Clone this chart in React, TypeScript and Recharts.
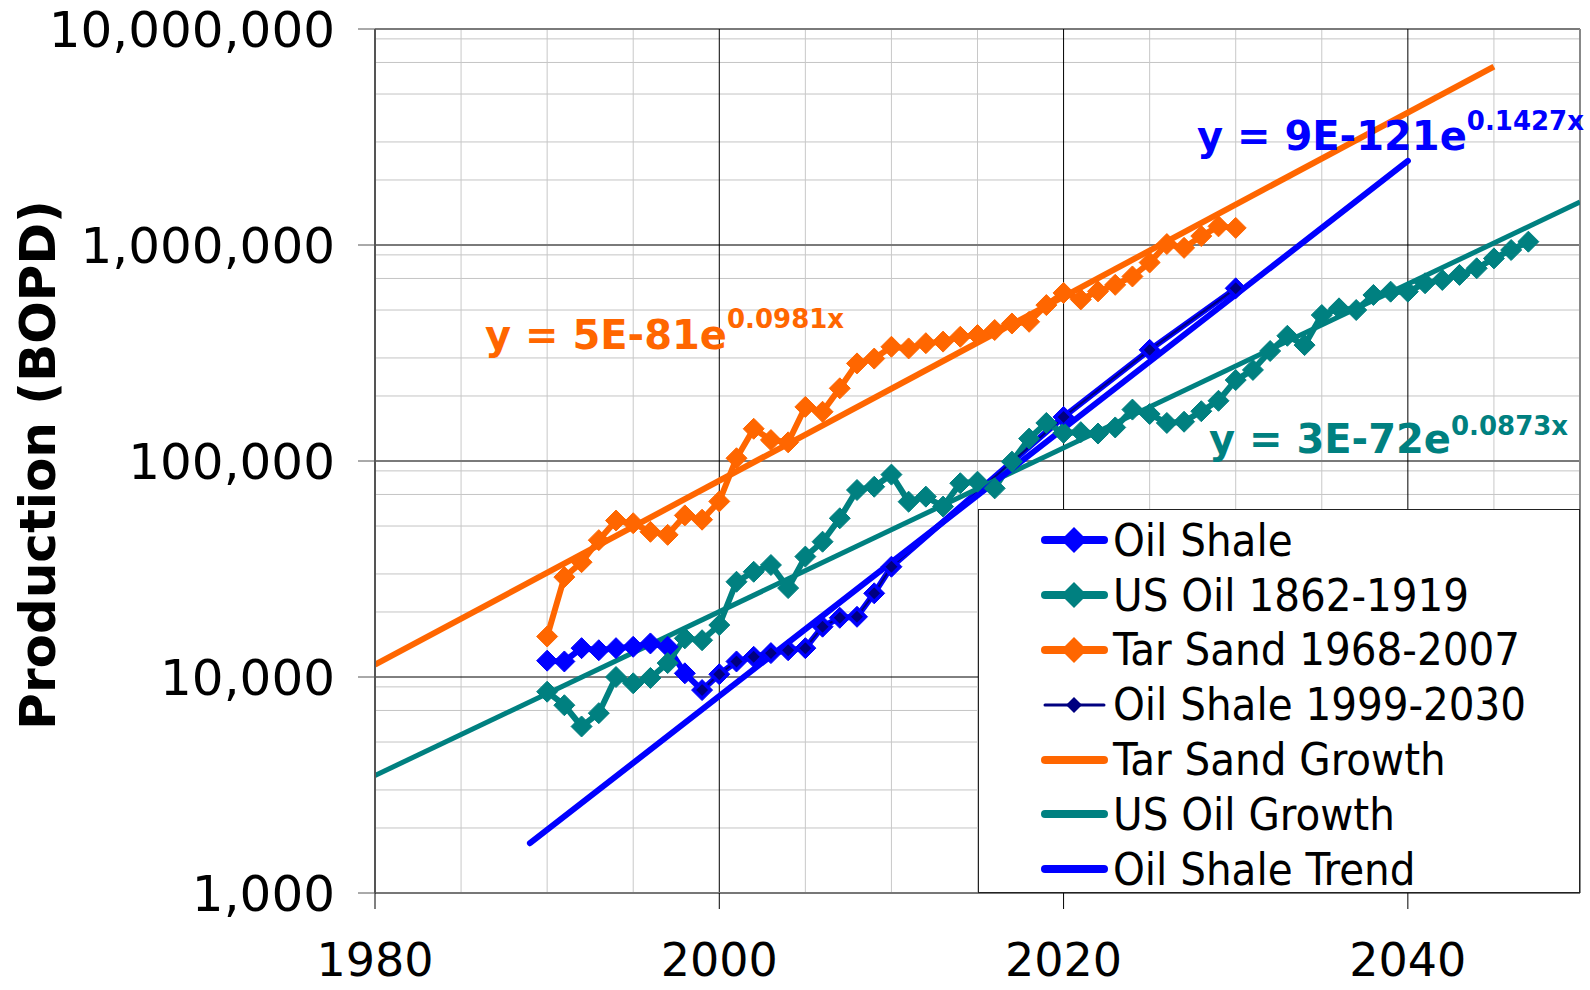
import { CartesianGrid, Legend, Line, LineChart, XAxis, YAxis } from 'recharts';

const xTicks = [1980, 2000, 2020, 2040];
const yTicks = [1000, 10000, 100000, 1000000, 10000000];
const minorYears = [1985, 1990, 1995, 2005, 2010, 2015, 2025, 2030, 2035, 2045];
const majorYears = [2000, 2020, 2040];
const decadeLines = [100000, 1000000, 10000000];
const blackDecade = [10000];
const minorMultipliers = [2, 3, 4, 5, 6, 7, 8, 9];
const decadeBases = [1000, 10000, 100000, 1000000];

// Oil Shale (blue)
const oilShaleYears = [1990, 1991, 1992, 1993, 1994, 1995, 1996, 1997, 1998, 1999, 2000, 2001, 2002, 2003, 2004, 2005, 2006, 2007, 2008, 2009, 2010, 2020, 2025, 2030];
const oilShaleValues = [11900, 11800, 13600, 13300, 13600, 13800, 14300, 13800, 10400, 8700, 10300, 11800, 12400, 12900, 13300, 13600, 17100, 18800, 19000, 24400, 32400, 160000, 327000, 630000];

// US Oil 1862-1919, shifted to 1990-2047
const usOilYears = [
  1990, 1991, 1992, 1993, 1994, 1995, 1996, 1997, 1998, 1999, 2000, 2001, 2002, 2003, 2004, 2005, 2006, 2007, 2008, 2009,
  2010, 2011, 2012, 2013, 2014, 2015, 2016, 2017, 2018, 2019, 2020, 2021, 2022, 2023, 2024, 2025, 2026, 2027, 2028, 2029,
  2030, 2031, 2032, 2033, 2034, 2035, 2036, 2037, 2038, 2039, 2040, 2041, 2042, 2043, 2044, 2045, 2046, 2047,
];
const usOilValues = [
  8550, 7400, 5900, 6800, 10000, 9350, 9900, 11600, 15100, 14800, 17400, 27600, 30700, 33000, 25800, 36100, 42300, 54300, 73400, 76000,
  86500, 64800, 68400, 61500, 78900, 80200, 74700, 99300, 127000, 150000, 135000, 136000, 134000, 143000, 173000, 165000, 150000, 152000, 170000, 190000,
  237000, 264000, 323000, 380000, 344000, 474000, 509000, 500000, 587000, 608000, 608000, 665000, 689000, 727000, 780000, 867000, 948000, 1036000,
];

// Tar Sand 1968-2007, shifted to 1990-2030
const tarSandYears = [
  1990, 1991, 1992, 1993, 1994, 1995, 1996, 1997, 1998, 1999, 2000, 2001, 2002, 2003, 2004, 2005, 2006, 2007, 2008, 2009,
  2010, 2011, 2012, 2013, 2014, 2015, 2016, 2017, 2018, 2019, 2020, 2021, 2022, 2023, 2024, 2025, 2026, 2027, 2028, 2029, 2030,
];
const tarSandValues = [
  15400, 29000, 34000, 43000, 53000, 51500, 47000, 45500, 56000, 53500, 65000, 103000, 141000, 125000, 122000, 178000, 169000, 217000, 283000, 298000,
  338000, 332000, 351000, 357000, 376000, 383000, 404000, 433000, 441000, 527000, 600000, 560000, 610000, 654000, 715000, 830000, 1010000, 970000, 1100000, 1220000, 1200000,
];

// Oil Shale 1999-2030 (navy)
const shaleProjYears = [1999, 2000, 2001, 2002, 2003, 2004, 2005, 2006, 2007, 2008, 2009, 2010, 2020, 2025, 2030];
const shaleProjValues = [8700, 10300, 11800, 12400, 12900, 13300, 13600, 17100, 18800, 19000, 24400, 32400, 160000, 327000, 630000];

// trend lines (end points)
const tarGrowthYears = [1980, 2045];
const tarGrowthValues = [11400, 6700000];
const usGrowthYears = [1980, 2050];
const usGrowthValues = [3500, 1580000];
const shaleTrendYears = [1989, 2040];
const shaleTrendValues = [1700, 2450000];

const BLUE = '#0000FF';
const TEAL = '#008080';
const ORANGE = '#FF6600';
const NAVY = '#000080';

const zip = (years: number[], values: number[]) => years.map((year, i) => ({ year, v: values[i] }));

const minorValues = decadeBases.flatMap((b) => minorMultipliers.map((m) => b * m));

const diamond = (fill: string, r: number, stroke?: string) => (props: any) => {
  const { cx, cy, index } = props;
  if (cx == null || cy == null) return <g key={`e-${index}`} />;
  return (
    <path
      key={`d-${index}`}
      d={`M${cx},${cy - r}L${cx + r},${cy}L${cx},${cy + r}L${cx - r},${cy}Z`}
      fill={fill}
      stroke={stroke ?? fill}
      strokeWidth={stroke ? 1.5 : 1}
    />
  );
};

const legendItems = [
  { label: 'Oil Shale', color: BLUE, width: 8, marker: 13 },
  { label: 'US Oil 1862-1919', color: TEAL, width: 8, marker: 13 },
  { label: 'Tar Sand 1968-2007', color: ORANGE, width: 8, marker: 13 },
  { label: 'Oil Shale 1999-2030', color: NAVY, width: 3, marker: 8 },
  { label: 'Tar Sand Growth', color: ORANGE, width: 8, marker: 0 },
  { label: 'US Oil Growth', color: TEAL, width: 8, marker: 0 },
  { label: 'Oil Shale Trend', color: BLUE, width: 8, marker: 0 },
];

function LegendBox() {
  return (
    <div style={{ width: 602, height: 384, border: '1.5px solid #222', background: '#fff', boxSizing: 'border-box', paddingTop: 3 }}>
      {legendItems.map((it) => (
        <div key={it.label} style={{ height: 54.8, display: 'flex', alignItems: 'center' }}>
          <svg width={134} height={40} style={{ flex: 'none' }}>
            <line x1={66} x2={125} y1={20} y2={20} stroke={it.color} strokeWidth={it.width} strokeLinecap="round" />
            {it.marker > 0 && (
              <path d={`M95,${20 - it.marker}L${95 + it.marker},20L95,${20 + it.marker}L${95 - it.marker},20Z`} fill={it.color} />
            )}
          </svg>
          <span style={{ fontFamily: '"DejaVu Sans Condensed", "DejaVu Sans", sans-serif', fontSize: 45, color: '#000', whiteSpace: 'nowrap', lineHeight: 1 }}>
            {it.label}
          </span>
        </div>
      ))}
    </div>
  );
}

export default function App() {
  const eqFont = '"DejaVu Sans", sans-serif';
  return (
    <div style={{ position: 'absolute', left: 0, top: 0, width: 1590, height: 990, background: '#fff', overflow: 'hidden' }}>
      <LineChart width={1590} height={990} margin={{ top: 29, right: 10, bottom: 0, left: 0 }}>
        <CartesianGrid horizontal vertical={false} horizontalValues={minorValues} stroke="#c4c4c4" strokeWidth={1} />
        <CartesianGrid horizontal={false} vertical verticalValues={minorYears} stroke="#c8c8c8" strokeWidth={1} />
        <CartesianGrid horizontal vertical={false} horizontalValues={decadeLines} stroke="#7a7a7a" strokeWidth={2} />
        <CartesianGrid horizontal vertical={false} horizontalValues={blackDecade} stroke="#000" strokeWidth={1} />
        <CartesianGrid horizontal={false} vertical verticalValues={majorYears} stroke="#000" strokeWidth={1} />
        <CartesianGrid horizontal={false} vertical verticalValues={[2050]} stroke="#888" strokeWidth={2} />
        <XAxis
          dataKey="year"
          type="number"
          domain={[1980, 2050]}
          ticks={xTicks}
          allowDataOverflow
          height={97}
          tickSize={16}
          tickMargin={34}
          axisLine={{ stroke: '#777', strokeWidth: 2 }}
          tickLine={{ stroke: '#000' }}
          tick={{ fontSize: 46, fontFamily: eqFont, fill: '#000' }}
        />
        <YAxis
          type="number"
          scale="log"
          domain={[1000, 10000000]}
          ticks={yTicks}
          allowDataOverflow
          width={375}
          tickSize={17}
          tickMargin={23}
          axisLine={{ stroke: '#555', strokeWidth: 2 }}
          tickLine={{ stroke: '#555' }}
          tick={{ fontSize: 50, fontFamily: eqFont, fill: '#000' }}
          tickFormatter={(v: number) => v.toLocaleString('en-US')}
        />
        <Legend
          layout="vertical"
          align="center"
          verticalAlign="middle"
          wrapperStyle={{ left: 978, top: 509, width: 602, height: 384 }}
          content={() => <LegendBox />}
        />
        <Line data={zip(oilShaleYears, oilShaleValues)} dataKey="v" name="Oil Shale" stroke={BLUE} strokeWidth={6} dot={diamond(BLUE, 10.5)} activeDot={false} isAnimationActive={false} />
        <Line data={zip(usOilYears, usOilValues)} dataKey="v" name="US Oil 1862-1919" stroke={TEAL} strokeWidth={6} dot={diamond(TEAL, 10.5)} activeDot={false} isAnimationActive={false} />
        <Line data={zip(tarSandYears, tarSandValues)} dataKey="v" name="Tar Sand 1968-2007" stroke={ORANGE} strokeWidth={6} dot={diamond(ORANGE, 10.5)} activeDot={false} isAnimationActive={false} />
        <Line data={zip(shaleProjYears, shaleProjValues)} dataKey="v" name="Oil Shale 1999-2030" stroke={NAVY} strokeWidth={2} dot={diamond(NAVY, 7, BLUE)} activeDot={false} isAnimationActive={false} />
        <Line data={zip(tarGrowthYears, tarGrowthValues)} dataKey="v" name="Tar Sand Growth" stroke={ORANGE} strokeWidth={6} dot={false} activeDot={false} isAnimationActive={false} />
        <Line data={zip(usGrowthYears, usGrowthValues)} dataKey="v" name="US Oil Growth" stroke={TEAL} strokeWidth={5} dot={false} activeDot={false} isAnimationActive={false} />
        <Line data={zip(shaleTrendYears, shaleTrendValues)} dataKey="v" name="Oil Shale Trend" stroke={BLUE} strokeWidth={6} strokeLinecap="round" dot={false} activeDot={false} isAnimationActive={false} />
      </LineChart>
      <svg width={1590} height={990} style={{ position: 'absolute', left: 0, top: 0, pointerEvents: 'none' }}>
        <text transform="translate(55,465) rotate(-90)" textAnchor="middle" fontFamily={eqFont} fontWeight="bold" fontSize={50} fill="#000">
          Production (BOPD)
        </text>
        <text x={485} y={349} fontFamily={eqFont} fontWeight="bold" fontSize={40} fill={ORANGE}>
          y = 5E-81e<tspan fontSize={26} dy={-21}>0.0981x</tspan>
        </text>
        <text x={1197} y={150} fontFamily={eqFont} fontWeight="bold" fontSize={40} fill={BLUE}>
          y = 9E-121e<tspan fontSize={26} dy={-20}>0.1427x</tspan>
        </text>
        <text x={1209} y={453} fontFamily={eqFont} fontWeight="bold" fontSize={40} fill={TEAL}>
          y = 3E-72e<tspan fontSize={26} dy={-18}>0.0873x</tspan>
        </text>
      </svg>
    </div>
  );
}
